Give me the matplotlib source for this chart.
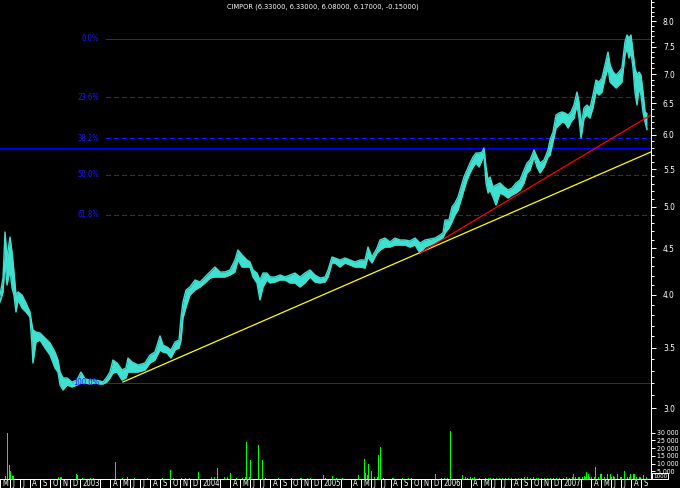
import numpy as np
import matplotlib
matplotlib.use("Agg")
import matplotlib.pyplot as plt
from matplotlib.ticker import FixedLocator, FixedFormatter, NullFormatter

FONT = dict(family="DejaVu Sans", stretch="condensed")

title = "CIMPOR (6.33000, 6.33000, 6.08000, 6.17000, -0.15000)"

# ---- price data (time in fractional years, daily high / low band) ----
t = [2002.335, 2002.360, 2002.377, 2002.393, 2002.418, 2002.435, 2002.451, 2002.468, 2002.485, 2002.518,
     2002.551, 2002.584, 2002.601, 2002.609, 2002.634, 2002.667, 2002.709, 2002.751, 2002.792, 2002.817,
     2002.834, 2002.859, 2002.892, 2002.933, 2002.975, 2003.008, 2003.042, 2003.083, 2003.125, 2003.166,
     2003.191, 2003.224, 2003.249, 2003.274, 2003.308, 2003.349, 2003.382, 2003.399, 2003.432, 2003.482,
     2003.540, 2003.582, 2003.623, 2003.665, 2003.690, 2003.723, 2003.756, 2003.790, 2003.823, 2003.840,
     2003.856, 2003.881, 2003.914, 2003.956, 2003.998, 2004.039, 2004.081, 2004.122, 2004.164, 2004.205,
     2004.247, 2004.288, 2004.313, 2004.347, 2004.388, 2004.413, 2004.438, 2004.471, 2004.496, 2004.521,
     2004.554, 2004.579, 2004.621, 2004.663, 2004.704, 2004.746, 2004.787, 2004.829, 2004.870, 2004.912,
     2004.953, 2004.995, 2005.037, 2005.062, 2005.095, 2005.120, 2005.161, 2005.203, 2005.244, 2005.286,
     2005.328, 2005.369, 2005.394, 2005.427, 2005.469, 2005.494, 2005.535, 2005.577, 2005.618, 2005.660,
     2005.702, 2005.743, 2005.785, 2005.826, 2005.868, 2005.909, 2005.951, 2005.993, 2006.017, 2006.034,
     2006.067, 2006.092, 2006.117, 2006.142, 2006.167, 2006.192, 2006.217, 2006.242, 2006.267, 2006.292,
     2006.317, 2006.342, 2006.358, 2006.375, 2006.392, 2006.408, 2006.433, 2006.458, 2006.491, 2006.525,
     2006.558, 2006.591, 2006.624, 2006.658, 2006.691, 2006.716, 2006.741, 2006.774, 2006.799, 2006.824,
     2006.857, 2006.890, 2006.907, 2006.932, 2006.957, 2006.982, 2007.007, 2007.032, 2007.057, 2007.081,
     2007.106, 2007.131, 2007.148, 2007.165, 2007.190, 2007.214, 2007.239, 2007.264, 2007.289, 2007.314,
     2007.339, 2007.364, 2007.389, 2007.406, 2007.431, 2007.456, 2007.480, 2007.505, 2007.530, 2007.547,
     2007.564, 2007.580, 2007.597, 2007.613, 2007.630, 2007.647, 2007.663, 2007.680, 2007.697, 2007.713]

high = [3.998, 4.174, 4.690, 4.391, 4.631, 4.458, 4.238, 3.998, 4.029, 3.998,
        3.918, 3.830, 3.705, 3.659, 3.640, 3.631, 3.585, 3.540, 3.460, 3.391,
        3.289, 3.240, 3.240, 3.207, 3.223, 3.289, 3.232, 3.223, 3.223, 3.215,
        3.207, 3.248, 3.289, 3.391, 3.365, 3.306, 3.323, 3.408, 3.374, 3.348,
        3.365, 3.434, 3.460, 3.604, 3.522, 3.504, 3.478, 3.549, 3.567, 3.781,
        3.928, 4.049, 4.080, 4.153, 4.132, 4.185, 4.238, 4.292, 4.238, 4.238,
        4.260, 4.369, 4.481, 4.425, 4.369, 4.347, 4.260, 4.227, 4.153, 4.227,
        4.227, 4.185, 4.185, 4.206, 4.185, 4.206, 4.227, 4.185, 4.227, 4.260,
        4.206, 4.174, 4.185, 4.260, 4.402, 4.391, 4.369, 4.391, 4.369, 4.347,
        4.369, 4.369, 4.515, 4.402, 4.504, 4.596, 4.619, 4.573, 4.619, 4.596,
        4.596, 4.585, 4.619, 4.561, 4.596, 4.607, 4.619, 4.655, 4.678, 4.835,
        4.835, 4.997, 5.048, 5.125, 5.257, 5.392, 5.488, 5.586, 5.672, 5.730,
        5.730, 5.744, 5.803, 5.530, 5.351, 5.392, 5.257, 5.283, 5.310, 5.257,
        5.217, 5.243, 5.310, 5.351, 5.488, 5.586, 5.629, 5.773, 5.672, 5.586,
        5.629, 5.773, 5.922, 6.043, 6.309, 6.341, 6.357, 6.341, 6.309, 6.357,
        6.471, 6.688, 6.520, 6.151, 6.422, 6.471, 6.422, 6.637, 6.894, 6.859,
        6.929, 7.161, 7.401, 7.161, 7.035, 6.982, 7.035, 7.107, 7.591, 7.727,
        7.669, 7.727, 7.401, 7.107, 6.982, 7.035, 6.982, 6.688, 6.357, 6.330]

low = [3.928, 4.029, 4.347, 4.101, 4.260, 4.070, 3.998, 3.830, 3.948, 3.869,
       3.830, 3.781, 3.522, 3.365, 3.549, 3.567, 3.496, 3.434, 3.323, 3.289,
       3.183, 3.143, 3.183, 3.167, 3.183, 3.199, 3.199, 3.191, 3.199, 3.191,
       3.191, 3.207, 3.240, 3.281, 3.289, 3.223, 3.240, 3.289, 3.289, 3.289,
       3.306, 3.365, 3.391, 3.478, 3.460, 3.452, 3.408, 3.478, 3.496, 3.567,
       3.772, 3.878, 3.998, 4.049, 4.080, 4.122, 4.174, 4.185, 4.185, 4.185,
       4.206, 4.238, 4.369, 4.292, 4.292, 4.292, 4.185, 4.122, 3.948, 4.080,
       4.153, 4.122, 4.132, 4.153, 4.153, 4.122, 4.122, 4.080, 4.122, 4.185,
       4.132, 4.122, 4.132, 4.185, 4.336, 4.336, 4.292, 4.336, 4.314, 4.292,
       4.292, 4.281, 4.402, 4.336, 4.447, 4.481, 4.515, 4.515, 4.538, 4.538,
       4.538, 4.515, 4.538, 4.447, 4.515, 4.538, 4.561, 4.596, 4.619, 4.678,
       4.738, 4.811, 4.897, 4.959, 5.086, 5.217, 5.351, 5.447, 5.530, 5.586,
       5.530, 5.629, 5.701, 5.310, 5.177, 5.217, 5.125, 5.022, 5.177, 5.151,
       5.112, 5.151, 5.177, 5.217, 5.310, 5.447, 5.488, 5.672, 5.530, 5.447,
       5.530, 5.672, 5.701, 5.892, 6.104, 6.151, 6.198, 6.182, 6.104, 6.198,
       6.261, 6.471, 6.261, 5.952, 6.261, 6.309, 6.261, 6.422, 6.688, 6.637,
       6.688, 6.929, 7.107, 6.859, 6.807, 6.756, 6.807, 6.859, 7.345, 7.477,
       7.290, 7.401, 7.107, 6.688, 6.471, 6.756, 6.637, 6.357, 6.198, 6.080]

# ---- volume data ----
vol_t = [2002.335, 2002.377, 2002.401, 2002.418, 2002.426, 2002.443, 2002.451, 2002.825, 2002.834, 2002.850,
         2002.975, 2002.983, 2003.017, 2003.091, 2003.116, 2003.291, 2003.357, 2003.391, 2003.457, 2003.565,
         2003.682, 2003.756, 2003.781, 2003.840, 2003.873, 2003.914, 2003.981, 2004.097, 2004.122, 2004.147,
         2004.205, 2004.230, 2004.247, 2004.297, 2004.347, 2004.372, 2004.380, 2004.388, 2004.405, 2004.413,
         2004.421, 2004.480, 2004.521, 2004.538, 2004.646, 2004.762, 2004.829, 2004.845, 2004.895, 2004.912,
         2005.020, 2005.037, 2005.095, 2005.136, 2005.186, 2005.319, 2005.361, 2005.369, 2005.377, 2005.386,
         2005.402, 2005.427, 2005.452, 2005.469, 2005.485, 2005.494, 2005.519, 2005.594, 2005.610, 2005.677,
         2005.727, 2005.752, 2005.951, 2006.009, 2006.034, 2006.059, 2006.076, 2006.183, 2006.208, 2006.225,
         2006.242, 2006.259, 2006.283, 2006.325, 2006.367, 2006.392, 2006.416, 2006.441, 2006.466, 2006.491,
         2006.516, 2006.541, 2006.566, 2006.591, 2006.616, 2006.641, 2006.666, 2006.691, 2006.716, 2006.741,
         2006.766, 2006.791, 2006.815, 2006.840, 2006.865, 2006.890, 2006.915, 2006.940, 2006.965, 2006.990,
         2007.015, 2007.040, 2007.065, 2007.090, 2007.106, 2007.123, 2007.140, 2007.156, 2007.173, 2007.190,
         2007.198, 2007.214, 2007.223, 2007.239, 2007.256, 2007.273, 2007.281, 2007.289, 2007.306, 2007.323,
         2007.339, 2007.356, 2007.381, 2007.389, 2007.406, 2007.422, 2007.431, 2007.447, 2007.472, 2007.489,
         2007.505, 2007.530, 2007.547, 2007.564, 2007.580, 2007.597, 2007.605, 2007.613, 2007.630, 2007.647,
         2007.663, 2007.680, 2007.688, 2007.705]

vol = [33600, 1700, 29700, 8900, 5000, 1700, 1700, 1000, 1300, 1000,
       3000, 2500, 600, 600, 600, 11000, 600, 1000, 600, 600,
       600, 5600, 600, 600, 600, 600, 4300, 1000, 1000, 6900,
       1000, 1300, 3700, 600, 600, 1500, 2500, 23900, 1000, 1000,
       12100, 21800, 12100, 600, 500, 500, 500, 500, 600, 500,
       2500, 700, 1700, 600, 500, 2400, 12700, 5000, 3700, 2500,
       9500, 5000, 1000, 1000, 15500, 20500, 600, 500, 500, 500,
       500, 500, 3000, 500, 500, 500, 30800, 2400, 1000, 800,
       1000, 800, 1000, 500, 700, 600, 800, 600, 700, 900,
       600, 700, 500, 600, 700, 600, 800, 1000, 1200, 900,
       1000, 700, 600, 800, 600, 700, 900, 800, 700, 900,
       800, 1000, 900, 1200, 3000, 1000, 1500, 1200, 1500, 1800,
       1500, 4300, 3500, 1500, 1000, 1500, 7600, 5900, 1500, 3000,
       3000, 1200, 3500, 3000, 3500, 1500, 2000, 1200, 3000, 1500,
       1500, 5000, 1500, 1200, 3000, 1500, 3000, 3000, 1200, 1500,
       1200, 2000, 2500, 1000]

# ---- drawing-tool data ----
fib_high, fib_low = 7.65, 3.20
fib_ratios = [0.0, 0.236, 0.382, 0.5, 0.618, 1.0]
fib_labels = ["0.0%", "23.6%", "38.2%", "50.0%", "61.8%", "100.0%"]
fib_start = 2003.216
fib_low_start = 2002.983
hline_price = 5.81
yellow_t = [2003.357, 2007.746]
yellow_p = [3.207, 5.745]
red_t = [2005.826, 2007.746]
red_p = [4.447, 6.309]

price_ticks = [3.0, 3.5, 4.0, 4.5, 5.0, 5.5, 6.0, 6.5, 7.0, 7.5, 8.0]
vol_ticks = [5000, 10000, 15000, 20000, 25000, 30000]
vol_tick_labels = ["5 000", "10 000", "15 000", "20 000", "25 000", "30 000"]

month_letters = ["J", "F", "M", "A", "M", "J", "J", "A", "S", "O", "N", "D"]

# ---------------------------------------------------------------
W, H = 680, 488
PX = 0.72  # one pixel in points
fig = plt.figure(figsize=(W / 100, H / 100), dpi=100, facecolor="black")
XL = (2002.335, 2007.7465)
TURQ = "#40E0D0"
BLUE = "#0000FF"
FIBBLUE = "#1A1AFF"

ax = fig.add_axes([0, 1 - 419 / H, 651 / W, 419 / H])
ax.set_facecolor("black")
ax.set_yscale("log")
ax.set_ylim(2.92, 8.444)
ax.set_xlim(*XL)
for s in ["left", "top", "bottom"]:
    ax.spines[s].set_visible(False)
ax.spines["right"].set_color("white")
ax.spines["right"].set_linewidth(PX)
ax.set_xticks([])
ax.yaxis.tick_right()
ax.yaxis.set_major_locator(FixedLocator(price_ticks))
ax.yaxis.set_major_formatter(FixedFormatter(["%.1f" % v for v in price_ticks]))
ax.yaxis.set_minor_locator(FixedLocator(np.round(np.arange(2.9, 8.45, 0.1), 2)))
ax.yaxis.set_minor_formatter(NullFormatter())
ax.tick_params(axis="y", which="major", length=3.6, width=PX, color="white",
               labelcolor="white", labelsize=6, pad=5)
ax.tick_params(axis="y", which="minor", length=2, width=PX, color="white")
for lab in ax.get_yticklabels():
    lab.set_family(FONT["family"])
    lab.set_stretch(FONT["stretch"])

# price band
ax.fill_between(t, low, high, color=TURQ, linewidth=0, zorder=3)
ax.plot(t, high, color=TURQ, lw=1.0, zorder=3)
ax.plot(t, low, color=TURQ, lw=1.0, zorder=3)

# fibonacci levels
for r, lab in zip(fib_ratios, fib_labels):
    lvl = fib_high - r * (fib_high - fib_low)
    x0 = fib_low_start if r == 1.0 else fib_start
    if r in (0.0, 1.0):
        ax.plot([x0, XL[1]], [lvl, lvl], color=FIBBLUE, lw=PX, zorder=2, antialiased=False)
    else:
        ax.plot([x0, XL[1]], [lvl, lvl], color=FIBBLUE, lw=PX, dashes=(5, 3), zorder=2,
                antialiased=False)
    ax.annotate(lab, xy=(fib_start, lvl), xytext=(-5, 0), textcoords="offset points",
                ha="right", va="center", color=FIBBLUE, fontsize=5.5, zorder=5, **FONT)

ax.plot(XL, [hline_price, hline_price], color=BLUE, lw=PX, zorder=2, antialiased=False)
ax.plot(yellow_t, yellow_p, color="#FFFF00", lw=0.9, zorder=4)
ax.plot(red_t, red_p, color="#FF0000", lw=0.9, zorder=4)

# volume
vax = fig.add_axes([0, 9 / H, 651 / W, 59 / H])
vax.set_facecolor("black")
vax.set_xlim(*XL)
vax.set_ylim(0, 59 * 646.5)
for s in ["left", "top", "bottom"]:
    vax.spines[s].set_visible(False)
vax.spines["right"].set_color("white")
vax.spines["right"].set_linewidth(PX)
vax.set_xticks([])
vax.bar(vol_t, vol, width=1 / 120.3, color="#00FF00", linewidth=0, align="center")
vax.yaxis.tick_right()
vax.set_yticks(vol_ticks)
vax.set_yticklabels(vol_tick_labels)
vax.tick_params(axis="y", length=3, width=PX, color="white", labelcolor="white",
                labelsize=5, pad=1)
for lab in vax.get_yticklabels():
    lab.set_family(FONT["family"])
    lab.set_stretch(FONT["stretch"])
fig.text(660 / W, 1 - 476 / H, "1000", color="white", fontsize=4.5,
         ha="center", va="center",
         bbox=dict(facecolor="black", edgecolor="white", linewidth=PX, pad=0.6), zorder=10, **FONT)

# date strip
dax = fig.add_axes([0, 0, 651 / W, 9 / H])
dax.set_facecolor("black")
dax.set_xlim(*XL)
dax.set_ylim(0, 1)
dax.set_xticks([])
dax.set_yticks([])
for s in ["left", "right", "bottom"]:
    dax.spines[s].set_visible(False)
dax.spines["top"].set_color("white")
dax.spines["top"].set_linewidth(PX)
for yr in range(2002, 2008):
    for m in range(1, 13):
        pos = yr + (m - 1) / 12
        if pos < XL[0] - 0.01 or pos > XL[1]:
            continue
        if m == 2:
            continue
        dax.axvline(pos, color="white", lw=PX, snap=True)
        if m == 1:
            lab = str(yr)
        elif m == 3:
            lab = ""
        else:
            lab = month_letters[m - 1]
        if lab:
            dax.text(pos + 0.02, 0.45, lab, color="white", fontsize=5.5,
                     ha="left", va="center", **FONT)

fig.text(323 / W, 1 - 7 / H, title, color="white", fontsize=5.3,
         ha="center", va="center", **FONT)

fig.savefig("out.png", dpi=100, facecolor="black")
